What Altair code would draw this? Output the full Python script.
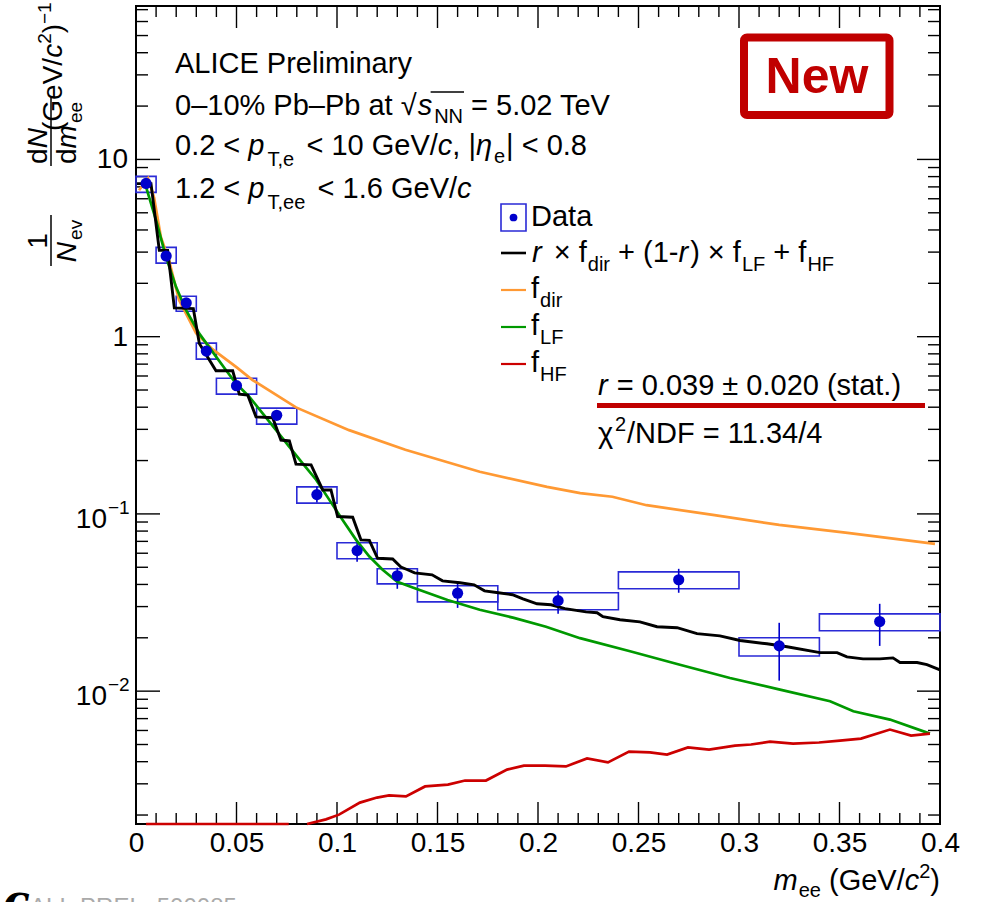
import altair as alt
import pandas as pd

# ------------------------------------------------------------------ data
pt_x = [0.005, 0.015, 0.025, 0.035, 0.05, 0.07, 0.09, 0.11, 0.13, 0.16, 0.21, 0.27, 0.32, 0.37]
pt_xlo = [0.0, 0.01, 0.02, 0.03, 0.04, 0.06, 0.08, 0.10, 0.12, 0.14, 0.18, 0.24, 0.30, 0.34]
pt_xhi = [0.01, 0.02, 0.03, 0.04, 0.06, 0.08, 0.10, 0.12, 0.14, 0.18, 0.24, 0.30, 0.34, 0.40]
pt_y = [7.32, 2.85, 1.55, 0.829, 0.529, 0.360, 0.1285, 0.0621, 0.0448, 0.0357, 0.0324, 0.0425, 0.0180, 0.0247]
stat_lo = [7.10, 2.78, 1.50, 0.80, 0.51, 0.345, 0.1159, 0.0537, 0.0378, 0.0295, 0.0273, 0.0359, 0.01146, 0.0180]
stat_hi = [7.55, 2.92, 1.60, 0.86, 0.55, 0.375, 0.1426, 0.0714, 0.0497, 0.0414, 0.0368, 0.0490, 0.0243, 0.0311]
sys_lo = [6.52, 2.60, 1.39, 0.747, 0.474, 0.321, 0.115, 0.0558, 0.0403, 0.0319, 0.0288, 0.0378, 0.0158, 0.0219]
sys_hi = [8.02, 3.19, 1.69, 0.919, 0.583, 0.395, 0.142, 0.0687, 0.0490, 0.0393, 0.0359, 0.0471, 0.0200, 0.0273]

# f_dir (orange)
dir_x = [0.0015, 0.006, 0.009, 0.0124, 0.0164, 0.0214, 0.0299, 0.038, 0.0498, 0.058, 0.0796, 0.106,
         0.134, 0.171, 0.2045, 0.221, 0.237, 0.254, 0.287, 0.320, 0.354, 0.3975]
dir_y = [6.7, 7.82, 6.1, 3.64, 2.70, 1.61, 1.046, 0.85, 0.675, 0.569, 0.399, 0.297,
         0.230, 0.173, 0.142, 0.131, 0.125, 0.112, 0.0987, 0.0867, 0.0781, 0.0678]

# f_LF (green)
lf_x = [0.0045, 0.010, 0.0149, 0.0199, 0.0249, 0.0315, 0.0381, 0.0448, 0.0498, 0.0564,
        0.063, 0.0697, 0.0763, 0.0829, 0.0896, 0.0962, 0.1028, 0.1095, 0.1161, 0.1227,
        0.130, 0.138, 0.155, 0.171, 0.188, 0.204, 0.2209, 0.2458, 0.2706, 0.2955,
        0.3204, 0.3453, 0.3569, 0.3751, 0.395]
lf_y = [7.3, 4.53, 2.82, 1.91, 1.41, 1.04, 0.821, 0.647, 0.544, 0.458,
        0.369, 0.297, 0.239, 0.193, 0.156, 0.120, 0.0925, 0.0714, 0.0575, 0.0484,
        0.0414, 0.0383, 0.0327, 0.0288, 0.0259, 0.0231, 0.0199, 0.0168, 0.0141, 0.01186,
        0.0102, 0.00877, 0.00770, 0.00691, 0.00576]

# f_HF (red): part drawn at the lower frame edge, then the rising part
hf_low_x = [0.005, 0.076]
hf_low_y = [0.00178, 0.00178]
hf_x = [0.0851, 0.0945, 0.1010, 0.1114, 0.1199, 0.1259, 0.1343, 0.1438, 0.1552, 0.1637,
        0.1741, 0.1846, 0.1930, 0.2035, 0.2139, 0.2244, 0.2348, 0.2453, 0.2557, 0.2642,
        0.2746, 0.2851, 0.2980, 0.3060, 0.3154, 0.3269, 0.3398, 0.3502, 0.3607, 0.3751,
        0.3856, 0.3950]
hf_y = [0.00178, 0.00189, 0.00201, 0.00235, 0.00251, 0.00258, 0.00255, 0.00290, 0.00297, 0.00313,
        0.00313, 0.00361, 0.00380, 0.00380, 0.00376, 0.00417, 0.00396, 0.00456, 0.00451, 0.00439,
        0.00481, 0.00468, 0.00493, 0.00500, 0.00519, 0.00506, 0.00513, 0.00526, 0.00540, 0.00607,
        0.00561, 0.00576]

# total fit r*f_dir + (1-r)*f_LF + f_HF (black, stepped)
tot_x = [0.0005, 0.00746, 0.0116, 0.01575, 0.01907, 0.02852, 0.0315, 0.0398, 0.0481, 0.0514,
         0.0556, 0.0597, 0.068, 0.0721, 0.0763, 0.0796, 0.0871, 0.0929, 0.0970, 0.1003,
         0.1078, 0.1119, 0.1161, 0.1202, 0.1277, 0.1318, 0.1351, 0.1386, 0.1473, 0.1525,
         0.1612, 0.1682, 0.1734, 0.1803, 0.1873, 0.1925, 0.1995, 0.2065, 0.2134, 0.2239,
         0.2294, 0.2323, 0.2408, 0.2507, 0.2592, 0.2692, 0.2791, 0.2905, 0.3005, 0.3139,
         0.3239, 0.3403, 0.3488, 0.3537, 0.3617, 0.3701, 0.3766, 0.3801, 0.3886, 0.3935, 0.4]
tot_y = [7.30, 7.30, 3.07, 3.07, 1.454, 1.44, 0.915, 0.642, 0.642, 0.474,
         0.468, 0.353, 0.349, 0.261, 0.258, 0.191, 0.189, 0.1365, 0.1365, 0.0966,
         0.0958, 0.0714, 0.0709, 0.0562, 0.0557, 0.0501, 0.0484, 0.0465, 0.0453, 0.0419,
         0.0409, 0.0398, 0.0368, 0.0359, 0.0350, 0.0332, 0.0311, 0.0307, 0.0292, 0.0280,
         0.0277, 0.0263, 0.0253, 0.0246, 0.0231, 0.0228, 0.0211, 0.0205, 0.0193, 0.0185,
         0.0178, 0.0165, 0.0165, 0.0156, 0.0152, 0.0152, 0.0154, 0.0145, 0.0145, 0.0141, 0.0132]

x_label_vals = [0, 0.05, 0.1, 0.15, 0.2, 0.25, 0.3, 0.35, 0.4]
y_major = [0.01, 0.1, 1, 10]
y_minor = [m * d for d in (0.001, 0.01, 0.1, 1, 10) for m in range(2, 10) if 0.00178 <= m * d <= 73.4]
x_major = x_label_vals
x_minor = [i / 100 for i in range(1, 40) if i % 5 != 0]

Y_MIN, Y_MAX = 0.00178, 73.4

# ------------------------------------------------------------------ layout / style
W, H = 804, 818
OX, OY = 136, 6
FONT = "Liberation Sans"
BLUE = "#0000cc"
BOXBLUE = "#2a2ad6"
ORANGE = "#ff9933"
GREEN = "#009900"
RED = "#cc0000"
DARKRED = "#c00000"

xscale = alt.Scale(domain=[0, 0.4], nice=False, zero=False)
yscale = alt.Scale(type="log", domain=[Y_MIN, Y_MAX], nice=False)
xaxis = alt.Axis(values=x_label_vals, format=".2~f", labelFont=FONT, labelFontSize=28,
                 labelColor="black", ticks=False, domain=False, grid=False, labelPadding=5,
                 title=None, labelOverlap=False, labelFlush=False)


def XE(f):
    return alt.X(f, type="quantitative", scale=xscale, axis=xaxis)


def YE(f):
    return alt.Y(f, type="quantitative", scale=yscale, axis=None)


layers = []

# ticks (inside, all four sides)
def yticks(vals, length, right=False):
    df = pd.DataFrame({"v": vals})
    x1, x2 = (W, W - length) if right else (0, length)
    return alt.Chart(df).mark_rule(color="black", strokeWidth=1.4).encode(
        y=YE("v"), x=alt.value(x1), x2=alt.value(x2))


def xticks(vals, length, top=False):
    df = pd.DataFrame({"v": vals})
    y1, y2 = (0, length) if top else (H, H - length)
    return alt.Chart(df).mark_rule(color="black", strokeWidth=1.4).encode(
        x=XE("v"), y=alt.value(y1), y2=alt.value(y2))


layers += [yticks(y_major, 24), yticks(y_minor, 12), yticks(y_major, 23, True), yticks(y_minor, 12, True),
           xticks(x_major, 22), xticks(x_minor, 11), xticks(x_major, 22, True), xticks(x_minor, 11, True)]

# data
pts = pd.DataFrame(dict(x=pt_x, xlo=pt_xlo, xhi=pt_xhi, y=pt_y, slo=stat_lo, shi=stat_hi,
                        ylo=sys_lo, yhi=sys_hi))
layers.append(alt.Chart(pts).mark_rect(fillOpacity=0, stroke=BOXBLUE, strokeWidth=1.6).encode(
    x=XE("xlo"), x2="xhi", y=YE("ylo"), y2="yhi"))
layers.append(alt.Chart(pts).mark_rule(color=BLUE, strokeWidth=1.6).encode(
    x=XE("x"), y=YE("slo"), y2="shi"))


def curve(xv, yv, color, sw=2.7):
    df = pd.DataFrame({"x": xv, "y": yv})
    return alt.Chart(df).mark_line(color=color, strokeWidth=sw).encode(x=XE("x"), y=YE("y"))


layers.append(curve(dir_x, dir_y, ORANGE))
layers.append(curve(lf_x, lf_y, GREEN))
hf_df = pd.DataFrame({"x": hf_low_x + hf_x, "y": hf_low_y + hf_y,
                      "seg": ["a"] * len(hf_low_x) + ["b"] * len(hf_x)})
layers.append(alt.Chart(hf_df).mark_line(color=RED, strokeWidth=2.7).encode(
    x=XE("x"), y=YE("y"), detail="seg:N"))
layers.append(curve(tot_x, tot_y, "black", 2.9))

layers.append(alt.Chart(pts).mark_circle(color=BLUE, opacity=1, size=125).encode(x=XE("x"), y=YE("y")))

# y tick labels
ylab_a = pd.DataFrame({"v": [1, 10], "t": ["1", "10"]})
layers.append(alt.Chart(ylab_a).mark_text(font=FONT, fontSize=28, align="right", baseline="middle",
                                           color="black", dy=1).encode(
    y=YE("v"), x=alt.value(128 - OX), text="t:N"))
ylab_b = pd.DataFrame({"v": [0.01, 0.1], "t": ["10", "10"], "e": ["\u22122", "\u22121"]})
layers.append(alt.Chart(ylab_b).mark_text(font=FONT, fontSize=28, align="right", baseline="middle",
                                           color="black", dy=6).encode(
    y=YE("v"), x=alt.value(107 - OX), text="t:N"))
layers.append(alt.Chart(ylab_b).mark_text(font=FONT, fontSize=19, align="left", baseline="middle",
                                           color="black", dy=-6).encode(
    y=YE("v"), x=alt.value(108 - OX), text="e:N"))

# ------------------------------------------------------------------ text helpers
HW = {' ': 278, '!': 278, '%': 889, '(': 333, ')': 333, '+': 584, ',': 278, '-': 333, '.': 278,
      '/': 278, '<': 584, '=': 584, '>': 584, '|': 260, 'A': 667, 'C': 722, 'D': 722, 'E': 667,
      'F': 611, 'G': 778, 'H': 722, 'I': 278, 'L': 556, 'N': 722, 'P': 667, 'T': 611, 'V': 667,
      'a': 556, 'b': 556, 'c': 500, 'd': 556, 'e': 556, 'f': 278, 'i': 222, 'l': 222, 'm': 833,
      'n': 556, 'p': 556, 'r': 333, 's': 500, 't': 278, 'v': 500, 'w': 722, 'x': 500, 'y': 500,
      '\u2013': 556, '\u2212': 584, '\u00d7': 584, '\u00b1': 584, '\u221a': 549, '\u03c7': 549,
      '\u03b7': 550}


def tw(s, size):
    return sum(HW.get(c, 556) for c in s) * size / 1000.0


dummy = pd.DataFrame({"d": [0]})


def put(t, x, y, size, style="normal", weight="normal", color="black", align="left", angle=None,
        font=FONT):
    kw = dict(font=font, fontSize=size, fontStyle=style, fontWeight=weight, color=color,
              align=align, baseline="alphabetic")
    if angle is not None:
        kw["angle"] = angle
    layers.append(alt.Chart(dummy).mark_text(**kw).encode(
        x=alt.value(x - OX), y=alt.value(y - OY), text=alt.value(t)))


def run(pieces, x0, base):
    cur = x0
    for t, size, style, dy, gap in pieces:
        s = t.lstrip(" ")
        lead = tw(t[:len(t) - len(s)], size)
        put(s, cur + lead, base + dy, size, style)
        cur += tw(t, size) + gap
    return cur


def run_rot(pieces, y0, xbase):
    cur = y0
    for t, size, style, dy, gap in pieces:
        s = t.lstrip(" ")
        lead = tw(t[:len(t) - len(s)], size)
        put(s, xbase + dy, cur - lead, size, style, angle=270)
        cur -= tw(t, size) + gap
    return cur


def hline(x1, x2, y, color, sw):
    layers.append(alt.Chart(dummy).mark_rule(color=color, strokeWidth=sw).encode(
        x=alt.value(x1 - OX), x2=alt.value(x2 - OX), y=alt.value(y - OY)))


def vline(x, y1, y2, color, sw):
    layers.append(alt.Chart(dummy).mark_rule(color=color, strokeWidth=sw).encode(
        x=alt.value(x - OX), y=alt.value(y1 - OY), y2=alt.value(y2 - OY)))


F, S = 29, 20
n, i = "normal", "italic"

# header block
run([("ALICE Preliminary", F, n, 0, 0)], 175, 73)
xe = run([("0\u201310% Pb\u2013Pb at ", F, n, 0, 0), ("\u221a", F, n, 0, 1)], 175, 115)
xs_end = run([("s", F, i, 0, 2), ("NN", S, n, 8, 3)], xe, 115)
hline(xe + 13, xs_end - 2, 92, "black", 1.5)
run([("= 5.02 TeV", F, n, 0, 0)], xs_end + 5, 115)
run([("0.2 < ", F, n, 0, 0), ("p", F, i, 0, 3), ("T,e", S, n, 11, 2), (" < 10 GeV/", F, n, 0, 0),
     ("c", F, i, 0, 0), (", |", F, n, 0, 0), ("\u03b7", F, i, 0, 2), ("e", S, n, 8, 1),
     ("| < 0.8", F, n, 0, 0)], 175, 155)
run([("1.2 < ", F, n, 0, 0), ("p", F, i, 0, 3), ("T,ee", S, n, 11, 2), (" < 1.6 GeV/", F, n, 0, 0),
     ("c", F, i, 0, 0)], 175, 198)

# legend
layers.append(alt.Chart(dummy).mark_rect(fillOpacity=0, stroke=BOXBLUE, strokeWidth=1.6).encode(
    x=alt.value(501 - OX), x2=alt.value(526 - OX), y=alt.value(204 - OY), y2=alt.value(231 - OY)))
layers.append(alt.Chart(dummy).mark_circle(color=BLUE, opacity=1, size=60).encode(
    x=alt.value(513.5 - OX), y=alt.value(217.5 - OY)))
run([("Data", F, n, 0, 0)], 531, 226)
hline(501, 526, 253, "black", 2.6)
run([("r", F, i, 0, 4), (" \u00d7 f", F, n, 0, 1), ("dir", S, n, 9, 0), (" + (1-", F, n, 0, 0),
     ("r", F, i, 0, 2), (") \u00d7 f", F, n, 0, 1), ("LF", S, n, 9, 0), (" + f", F, n, 0, 1),
     ("HF", S, n, 9, 0)], 532, 262)
hline(501, 526, 290, ORANGE, 2.2)
run([("f", F, n, 0, 1), ("dir", S, n, 9, 0)], 531, 298)
hline(501, 526, 327, GREEN, 2.2)
run([("f", F, n, 0, 1), ("LF", S, n, 9, 0)], 531, 335)
hline(501, 526, 364, RED, 2.2)
run([("f", F, n, 0, 1), ("HF", S, n, 9, 0)], 531, 372)

# fit result
run([("r", F, i, 0, 1), (" = 0.039 \u00b1 0.020 (stat.)", F, n, 0, 0)], 598, 395)
hline(597, 925, 405.5, DARKRED, 5)
run([("\u03c7", F, n, 0, 1), ("2", S, n, -12, 1), ("/NDF = 11.34/4", F, n, 0, 0)], 598, 443)

# "New" badge
layers.append(alt.Chart(dummy).mark_rect(fillOpacity=0, stroke=DARKRED, strokeWidth=8,
                                         cornerRadius=3).encode(
    x=alt.value(744 - OX), x2=alt.value(889.5 - OX), y=alt.value(37.5 - OY), y2=alt.value(115 - OY)))
put("New", 817, 93, 50, weight="bold", color=DARKRED, align="center")

# x title (right aligned to frame)
xt = [("m", F, i, 0, 1), ("ee", S, n, 7, 0), (" (GeV/", F, n, 0, 0), ("c", F, i, 0, 0),
      ("2", S, n, -12, 0), (")", F, n, 0, 0)]
tot = sum(tw(t, s) + g for t, s, _, _, g in xt)
run(xt, 940 - tot, 890)

# y title (rotated, reads bottom to top)
YF, YS = 28, 19
put("1", 47, 241, YF, align="center", angle=270)
den1 = [("N", YF, i, 0, 2), ("ev", YS, n, 6, 0)]
w1 = sum(tw(t, s) + g for t, s, _, _, g in den1)
run_rot(den1, 241 + w1 / 2, 76)
vline(51, 215, 266, "black", 1.5)
num2 = [("d", YF, n, 0, 0), ("N", YF, i, 0, 0)]
w2 = sum(tw(t, s) + g for t, s, _, _, g in num2)
run_rot(num2, 146 + w2 / 2, 47)
den2 = [("d", YF, n, 0, 0), ("m", YF, i, 0, 2), ("ee", YS, n, 6, 0)]
w3 = sum(tw(t, s) + g for t, s, _, _, g in den2)
run_rot(den2, 133 + w3 / 2, 76)
vline(51, 98, 166, "black", 1.5)
run_rot([("(GeV/", YF, n, 0, 0), ("c", YF, i, 0, 0), ("2", YS, n, -11, 0), (")", YF, n, 0, 0),
         ("\u22121", YS, n, -11, 0)], 131, 62)

# footer remnants (cut off at bottom of the picture, as in the reference)
put("ALI\u2212PREL\u2212500085", 30, 915, 24, color="#aaaaaa")
put("c", 3, 916, 44, style="italic", weight="bold", font="DejaVu Serif")

chart = alt.layer(*layers).properties(
    width=W, height=H,
    autosize=alt.AutoSizeParams(type="none"),
    padding={"left": OX, "top": OY, "right": 981 - OX - W, "bottom": 902 - OY - H},
    background="white",
).configure_view(stroke="black", strokeWidth=2)

chart.save("out.html", embed_options={"renderer": "svg", "actions": False})
